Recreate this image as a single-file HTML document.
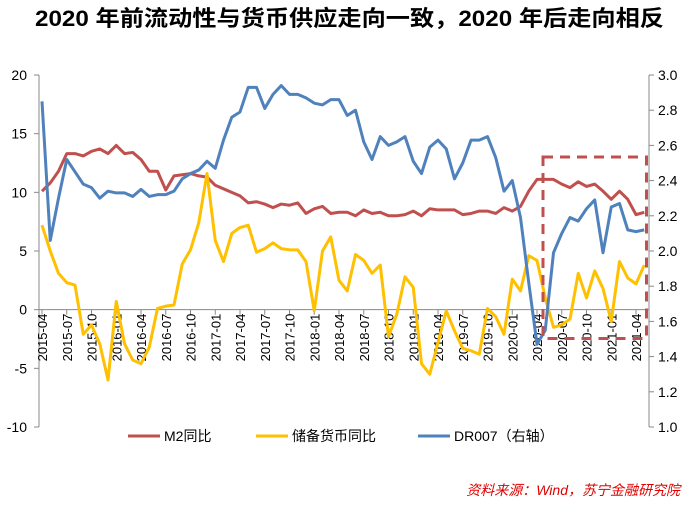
<!DOCTYPE html>
<html><head><meta charset="utf-8">
<style>
body{margin:0;background:#fff;width:688px;height:501px;overflow:hidden;font-family:"Liberation Sans","Noto Sans CJK SC",sans-serif;}
</style></head>
<body>
<svg id="chart" width="688" height="501" xmlns="http://www.w3.org/2000/svg" font-family="Liberation Sans, Noto Sans CJK SC, sans-serif">
<text x="35" y="26" font-size="22" font-weight="bold" fill="#000" textLength="629" lengthAdjust="spacingAndGlyphs">2020 年前流动性与货币供应走向一致，2020 年后走向相反</text>
<g id="axes"></g>
<g id="series"></g>
<rect x="543" y="157" width="103.5" height="181.5" fill="none" stroke="#C0504D" stroke-width="3" stroke-dasharray="10,7"/>
<g>
<line x1="128" y1="436" x2="160" y2="436" stroke="#C0504D" stroke-width="3"/>
<text x="164" y="441" font-size="14">M2同比</text>
<line x1="256" y1="436" x2="288" y2="436" stroke="#FFC000" stroke-width="3"/>
<text x="292" y="441" font-size="14">储备货币同比</text>
<line x1="418" y1="436" x2="450" y2="436" stroke="#4F81BD" stroke-width="3"/>
<text x="454" y="441" font-size="14">DR007（右轴）</text>
</g>
<text x="680" y="495" text-anchor="end" font-size="14" font-style="italic" fill="#E00000">资料来源：Wind，苏宁金融研究院</text>
</svg>
<script>
const m2 = [10.1,10.8,11.8,13.3,13.3,13.1,13.5,13.7,13.3,14.0,13.3,13.4,12.8,11.8,11.8,10.2,11.4,11.5,11.6,11.4,11.3,10.6,10.3,10.0,9.7,9.1,9.2,9.0,8.7,9.0,8.9,9.1,8.2,8.6,8.8,8.2,8.3,8.3,8.0,8.5,8.2,8.3,8.0,8.0,8.1,8.4,8.0,8.6,8.5,8.5,8.5,8.1,8.2,8.4,8.4,8.2,8.7,8.4,8.8,10.1,11.1,11.1,11.1,10.7,10.4,10.9,10.5,10.7,10.1,9.4,10.1,9.4,8.1,8.3];
const reserve = [7.2,5.0,3.1,2.3,2.1,-2.1,-1.3,-2.9,-6.0,0.7,-2.9,-4.3,-4.6,-3.2,0.1,0.3,0.4,3.9,5.1,7.4,11.6,5.9,4.1,6.5,7.0,7.2,4.9,5.2,5.7,5.2,5.1,5.1,4.1,-0.1,5.0,6.2,2.5,1.6,4.7,4.2,3.1,3.8,-2.3,-0.4,2.8,1.9,-4.6,-5.5,-2.8,-0.1,-1.8,-3.3,-3.5,-3.8,0.1,-0.6,-2.1,2.6,1.6,4.6,4.2,1.0,-1.5,-1.3,-0.8,3.1,1.0,3.3,1.8,-1.0,4.1,2.7,2.2,3.8];
const dr007 = [2.85,2.06,2.30,2.52,2.45,2.38,2.36,2.30,2.34,2.33,2.33,2.31,2.35,2.31,2.32,2.32,2.34,2.41,2.44,2.46,2.51,2.47,2.63,2.76,2.79,2.93,2.93,2.81,2.89,2.94,2.89,2.89,2.87,2.84,2.83,2.86,2.86,2.77,2.80,2.62,2.52,2.65,2.60,2.62,2.65,2.51,2.44,2.59,2.63,2.58,2.41,2.50,2.63,2.63,2.65,2.53,2.34,2.40,2.19,1.82,1.47,1.55,1.99,2.10,2.19,2.17,2.24,2.29,1.99,2.25,2.27,2.12,2.11,2.12];
const leftTicks = [20,15,10,5,0,-5,-10];
const rightTicks = [3.0,2.8,2.6,2.4,2.2,2.0,1.8,1.6,1.4,1.2,1.0];
const startYear = 2015, startMonth = 4;

const NS = "http://www.w3.org/2000/svg";
const X0 = 42, DX = 8.25, TOP = 75, BOT = 427;
const xS = i => X0 + i * DX;
const yL = v => TOP + (20 - v) / 30 * (BOT - TOP);
const yR = v => TOP + (3.0 - v) / 2.0 * (BOT - TOP);
function mk(tag, attrs, parent){const e=document.createElementNS(NS,tag);for(const k in attrs)e.setAttribute(k,attrs[k]);parent.appendChild(e);return e;}
const axes = document.getElementById('axes'), series = document.getElementById('series');

let el = mk('line',{x1:39,y1:TOP,x2:39,y2:BOT,stroke:'#888'},axes);


el = mk('line',{x1:649,y1:TOP,x2:649,y2:BOT,stroke:'#888'},axes);


leftTicks.forEach(v=>{
  const y=yL(v);
  mk('line',{x1:34,y1:y,x2:39,y2:y,stroke:'#888'},axes);
  const t=mk('text',{x:27,y:y+5,'text-anchor':'end','font-size':14},axes);
  t.textContent=v;
  
  
});
rightTicks.forEach(v=>{
  const y=yR(v);
  mk('line',{x1:649,y1:y,x2:654,y2:y,stroke:'#888'},axes);
  const t=mk('text',{x:658,y:y+5,'font-size':14},axes);
  t.textContent=v.toFixed(1);
  
  
});
el = mk('line',{x1:39,y1:yL(0),x2:649,y2:yL(0),stroke:'#888'},axes);


for(let i=0;i<m2.length;i+=3){
  const x=xS(i);
  mk('line',{x1:x,y1:yL(0),x2:x,y2:yL(0)+5,stroke:'#888'},axes);
  const mo=startMonth-1+i, yr=startYear+Math.floor(mo/12), m=mo%12+1;
  const t=mk('text',{x:0,y:0,'text-anchor':'end','font-size':13,transform:`translate(${x+5},${yL(0)+4}) rotate(-90)`},axes);
  t.textContent=yr+'-'+String(m).padStart(2,'0');
  
  
}
function line(data,yf,color,name){
  const p=mk('polyline',{points:data.map((v,i)=>xS(i)+','+yf(v)).join(' '),fill:'none',stroke:color,'stroke-width':3,'stroke-linejoin':'round'},series);
  
  
}
line(m2,yL,'#C0504D','m2-line');
line(reserve,yL,'#FFC000','reserve-money-line');
line(dr007,yR,'#4F81BD','dr007-line');
</script>
</body></html>
